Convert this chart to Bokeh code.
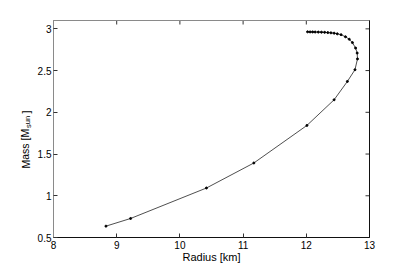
from bokeh.plotting import figure
from bokeh.models import LinearAxis, FixedTicker, Label, Range1d
from bokeh.embed import file_html
from bokeh.resources import INLINE

# Mass-radius curve
radius = [8.83, 9.22, 10.42, 11.17, 12.01, 12.44, 12.65, 12.77, 12.81, 12.805,
          12.78, 12.73, 12.68, 12.62, 12.55, 12.49, 12.44, 12.39, 12.34, 12.29,
          12.24, 12.19, 12.14, 12.10, 12.06, 12.02]
mass = [0.636, 0.728, 1.093, 1.393, 1.843, 2.15, 2.37, 2.51, 2.64, 2.71,
        2.77, 2.835, 2.875, 2.905, 2.93, 2.94, 2.948, 2.952, 2.955, 2.958,
        2.96, 2.961, 2.962, 2.963, 2.963, 2.964]

x_ticks = [8, 9, 10, 11, 12, 13]
y_ticks = [0.5, 1, 1.5, 2, 2.5, 3]
x_lim = (8, 13)
y_lim = (0.5, 3.1)

W, H = 400, 265
# plotting box inside the canvas (pixels from the canvas edges)
BL, BR, BT, BB = 53, 31, 20, 28
sx = (W - BL - BR) / (x_lim[1] - x_lim[0])
sy = (H - BT - BB) / (y_lim[1] - y_lim[0])
x_range = Range1d(x_lim[0] - BL / sx, x_lim[1] + BR / sx)
y_range = Range1d(y_lim[0] - BB / sy, y_lim[1] + BT / sy)

FONT = "Liberation Sans"

p = figure(width=W, height=H, x_range=x_range, y_range=y_range,
           output_backend="svg", toolbar_location=None,
           min_border_left=0, min_border_right=0, min_border_top=0, min_border_bottom=0,
           x_axis_location=None, y_axis_location=None)
p.grid.visible = False
p.outline_line_color = None


def make_axis(ticks, color, loc, bounds):
    ax = LinearAxis(fixed_location=loc, bounds=bounds)
    ax.ticker = FixedTicker(ticks=ticks)
    ax.axis_line_color = color
    ax.axis_line_width = 1
    ax.major_tick_in = 4
    ax.major_tick_out = 0
    ax.major_tick_line_color = "#333333"
    ax.minor_tick_line_color = None
    ax.major_label_text_font = FONT
    ax.major_label_text_font_size = "10px"
    ax.major_label_text_color = "black"
    ax.major_label_standoff = 3
    return ax


bottom = make_axis(x_ticks, "#111111", y_lim[0], x_lim)
left = make_axis(y_ticks, "#8a8a8a", x_lim[0], y_lim)
left.major_label_standoff = 2
top = make_axis([], "#8a8a8a", y_lim[1], x_lim)
right = make_axis([], "#111111", x_lim[1], y_lim)
p.add_layout(bottom, "below")
p.add_layout(left, "left")
p.add_layout(top, "above")
p.add_layout(right, "right")

# mirrored inward ticks on the top and right edges
p.ray(x=x_ticks, y=[y_lim[1]] * len(x_ticks), length=4, length_units="screen",
      angle=-1.5708, line_color="#333333", line_width=1)
p.ray(x=[x_lim[1]] * len(y_ticks), y=y_ticks, length=4, length_units="screen",
      angle=3.14159, line_color="#333333", line_width=1)

p.line(radius, mass, line_color="#222222", line_width=0.8)
p.scatter(radius, mass, size=2, color="black")

# axis titles (screen units from the canvas bottom-left)
p.add_layout(Label(x=211, y=H - 256.5, x_units="screen", y_units="screen",
                   text="Radius [km]", text_font=FONT,
                   text_font_size="11px", text_align="center", text_baseline="alphabetic",
                   text_color="black"))
p.add_layout(Label(x=25, y=H - 168, x_units="screen", y_units="screen",
                   text="Mass [M", angle=1.5708, text_font=FONT,
                   text_font_size="10.5px", text_align="left", text_baseline="alphabetic",
                   text_color="black"))
p.add_layout(Label(x=27.5, y=H - 127.5, x_units="screen", y_units="screen",
                   text="sun", angle=1.5708, text_font=FONT,
                   text_font_size="7.5px", text_align="left", text_baseline="alphabetic",
                   text_color="black"))
p.add_layout(Label(x=25, y=H - 113, x_units="screen", y_units="screen",
                   text="]", angle=1.5708, text_font=FONT,
                   text_font_size="10.5px", text_align="left", text_baseline="alphabetic",
                   text_color="black"))

open("out.html", "w").write(file_html(p, INLINE))
